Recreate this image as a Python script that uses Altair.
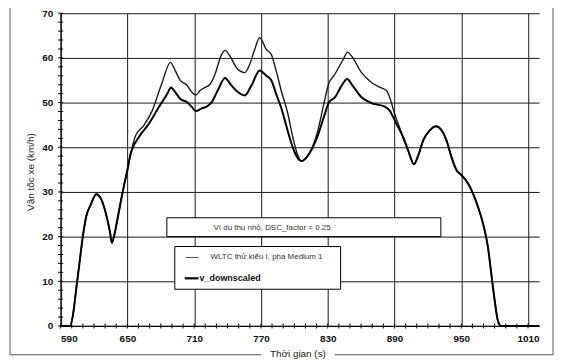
import altair as alt
import pandas as pd

# ---------------- data ----------------
# start segment, identical for both series
t_start = [590, 598.5, 601, 604, 607, 610, 613, 617, 622, 626, 629, 632, 634.5, 636, 638, 641, 645.5, 650, 653]
v_start = [0, 0, 2.3, 8.2, 14.2, 20.1, 24.5, 27.1, 29.5, 28.6, 26.7, 23.8, 20.8, 18.6, 20.1, 23.8, 29.7, 34.9, 38.6]

# WLTC class I, Medium 1 (thin, upper)
t_wltc = [657.5, 664.9, 672.3, 681.2, 688.7, 693.1, 697.6, 703.5, 708, 711.5, 715.4, 719.9, 724.3, 728.8,
          734.7, 737.7, 742.2, 748.1, 755.5, 760, 764.4, 768.9, 774.8, 779.3, 783.7, 788.2, 794.2, 798.6,
          803.1, 806.5, 813.4, 820.9, 826.8, 830.7, 836.6, 844, 847.9, 851.5, 860.4, 869.3, 878.2, 882.7,
          885.7, 890.1, 896, 901, 904]
v_wltc = [42.7, 44.9, 48.2, 54.5, 59.0, 57.1, 54.9, 53.9, 52.3, 51.7, 52.7, 53.4, 54.1, 56.4,
          60.8, 61.7, 60.4, 57.8, 56.7, 58.6, 61.9, 64.5, 61.9, 60.8, 57.1, 52.7, 47.5, 42.3,
          38.2, 36.9, 38.6, 43.5, 50.0, 54.1, 56.4, 59.7, 61.3, 60.4, 56.7, 54.5, 53.3, 52.7,
          51.2, 47.5, 43.5, 40.0, 38.2]

# v_downscaled (thick, lower)
t_down = [654.5, 660.4, 669.4, 678.3, 685.7, 689.2, 693.1, 697.6, 703.5, 708, 711.5, 716.9, 721.3, 725.8,
          731.7, 737.7, 743.6, 749.6, 755.5, 761.4, 768.9, 774.8, 779.3, 783.7, 788, 791.5, 795.6, 800.1,
          806.5, 813.4, 820.9, 826.8, 831.2, 836.6, 842.5, 847.6, 851.5, 860.4, 869.3, 881.2, 885.7, 891.6,
          897.7, 902]
v_down = [39.7, 42.3, 45.3, 49.0, 51.9, 53.4, 52.3, 50.8, 50.1, 49.0, 48.1, 48.7, 49.1, 50.1,
          53.0, 55.5, 53.8, 52.3, 51.6, 53.8, 57.2, 56.0, 55.0, 51.9, 49.0, 46.0, 42.3, 39.0,
          36.9, 38.6, 42.5, 47.0, 50.1, 51.2, 53.8, 55.3, 54.1, 51.2, 49.9, 49.1, 48.2, 45.3,
          42.3, 39.5]

# end segment, identical for both series
t_end = [907.5, 911.4, 915.9, 921.8, 927.2, 932.3, 936.7, 941.2, 945.7, 950.1, 956.1, 960.5, 965,
         969.5, 973.9, 976.9, 979.9, 982.9, 985.8, 1020]
v_end = [36.2, 38.2, 41.6, 43.8, 44.7, 43.8, 41.6, 37.8, 34.9, 33.8, 31.9, 29.7, 26.7,
         23.0, 17.8, 11.9, 6.0, 1.2, 0, 0]

x_major = [590, 650, 710, 770, 830, 890, 950, 1010]
y_major = [0, 10, 20, 30, 40, 50, 60, 70]
x_minor = list(range(590, 1011, 10))
y_minor = list(range(0, 71, 2))

legend_title = "Ví dụ thu nhỏ, DSC_factor = 0.25"
label_wltc = "WLTC thử kiểu I, pha Medium 1"
label_down = "v_downscaled"
x_title = "Thời gian (s)"
y_title = "Vận tốc xe (km/h)"

# ---------------- build tables ----------------
wltc = pd.DataFrame({"t": t_start + t_wltc + t_end, "v": v_start + v_wltc + v_end})
down = pd.DataFrame({"t": t_start + t_down + t_end, "v": v_start + v_down + v_end})
xminor = pd.DataFrame({"t": x_minor})
yminor = pd.DataFrame({"v": y_minor})

FONT = "Liberation Sans"
xscale = alt.Scale(domain=[590, 1020], nice=False, zero=False)
yscale = alt.Scale(domain=[0, 70], nice=False)

xaxis = alt.Axis(values=x_major, format="d", grid=True, gridColor="#1a1a1a", gridWidth=1, ticks=False,
                 domainColor="#000", domainWidth=1.2, labelFont=FONT, labelFontSize=10,
                 labelFontWeight="bold", labelColor="#111", labelPadding=8, title=None)
yaxis = alt.Axis(values=y_major, format="d", grid=True, gridColor="#1a1a1a", gridWidth=1, ticks=False,
                 domainColor="#000", domainWidth=1.2, labelFont=FONT, labelFontSize=10,
                 labelFontWeight="bold", labelColor="#111", labelPadding=8, title=None)

X = alt.X("t:Q", scale=xscale, axis=xaxis)
Y = alt.Y("v:Q", scale=yscale, axis=yaxis)

line_wltc = alt.Chart(wltc).mark_line(color="#1a1a1a", strokeWidth=1.4, interpolate="monotone").encode(x=X, y=Y)
line_down = alt.Chart(down).mark_line(color="#000", strokeWidth=2.0, interpolate="monotone").encode(x=X, y=Y)

xminor_ticks = alt.Chart(xminor).mark_rule(color="#000", strokeWidth=1).encode(
    x=X, y=alt.value(312.5), y2=alt.value(317.5),
)
yminor_ticks = alt.Chart(yminor).mark_rule(color="#000", strokeWidth=1).encode(
    y=Y, x=alt.value(-2.5), x2=alt.value(2.5),
)

one = pd.DataFrame({"a": [0]})

def rect(x, x2, y, y2):
    return alt.Chart(one).mark_rect(fill="white", stroke="#000", strokeWidth=1).encode(
        x=alt.value(x), x2=alt.value(x2), y=alt.value(y), y2=alt.value(y2))

def rule(x, x2, y, y2, w=1, color="#000"):
    return alt.Chart(one).mark_rule(color=color, strokeWidth=w).encode(
        x=alt.value(x), x2=alt.value(x2), y=alt.value(y), y2=alt.value(y2))

def text(s, x, y, size=8, weight="normal", align="left", angle=0, color="#222"):
    return alt.Chart(one).mark_text(text=s, font=FONT, fontSize=size, fontWeight=weight,
                                     align=align, baseline="middle", angle=angle, color=color).encode(
        x=alt.value(x), y=alt.value(y))

layers = [
    line_wltc, line_down, xminor_ticks, yminor_ticks,
    # legend boxes
    rect(107, 383, 206, 225),
    text(legend_title, 154, 216, size=8, color="#333"),
    rect(115, 282, 235, 278),
    rule(126, 139, 246, 246, w=1, color="#444"),
    text(label_wltc, 151, 246, size=8, color="#333"),
    rule(125, 139, 267, 267, w=2.2),
    text(label_down, 140, 267, size=9, weight="bold", color="#111"),
    # axis titles
    text(y_title, -30, 160, size=10, align="center", angle=270, color="#222"),
    text(x_title, 239, 343, size=10, align="center", color="#222"),
    # outer frame
    rule(-51, 496, -7, -7, color="#555"),
    rule(-51, -51, -7, 344, color="#555"),
    rule(496, 496, -7, 344, color="#555"),
    rule(-51, 202, 344, 344, color="#555"),
    rule(276, 496, 344, 344, color="#555"),
]

chart = alt.layer(*layers).properties(
    width=482, height=315,
    autosize=alt.AutoSizeParams(type="none"),
    padding={"left": 53, "top": 4, "right": 20, "bottom": 33},
    background="white",
).configure_view(stroke=None)

chart.save("out.html", embed_options={"renderer": "svg", "actions": False})
